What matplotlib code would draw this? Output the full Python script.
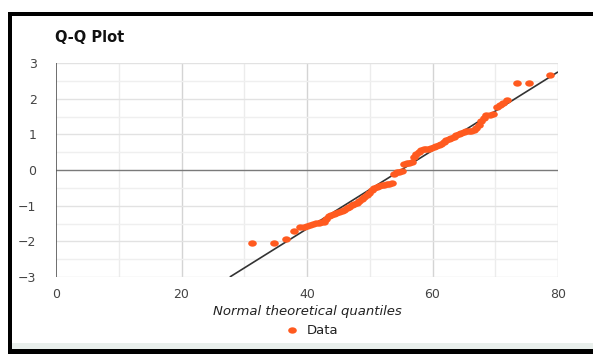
import matplotlib
matplotlib.use("Agg")
import matplotlib.pyplot as plt
from matplotlib.patches import Rectangle
from matplotlib.path import Path
from matplotlib.lines import Line2D
import numpy as np

# ---- data ----
theoretical_x = [31.2, 34.7, 36.7, 38.0, 38.9, 39.5, 40.0, 40.5, 41.0, 41.4,
                 41.9, 42.3, 42.7, 43.1, 43.5, 43.9, 44.3, 44.7, 45.1, 45.5,
                 45.9, 46.3, 46.7, 47.1, 47.5, 47.9, 48.3, 48.7, 49.1, 49.5,
                 49.9, 50.3, 50.7, 51.1, 51.5, 51.9, 52.3, 52.7, 53.1, 53.5,
                 53.9, 54.3, 54.7, 55.1, 55.5, 55.9, 56.3, 56.7, 57.1, 57.4,
                 57.8, 58.2, 58.6, 59.0, 59.4, 59.8, 60.2, 60.6, 61.0, 61.4,
                 61.8, 62.2, 62.6, 63.0, 63.4, 63.8, 64.2, 64.6, 65.0, 65.4,
                 65.8, 66.2, 66.6, 67.0, 67.4, 67.8, 68.2, 68.6, 69.1, 69.6,
                 70.2, 70.7, 71.2, 71.9, 73.5, 75.3, 78.8]
data_y = [-2.04, -2.04, -1.93, -1.70, -1.59, -1.59, -1.58, -1.55, -1.51, -1.49,
          -1.48, -1.47, -1.45, -1.36, -1.29, -1.26, -1.24, -1.21, -1.19, -1.16,
          -1.12, -1.07, -1.03, -0.99, -0.96, -0.93, -0.87, -0.80, -0.75, -0.70,
          -0.64, -0.57, -0.51, -0.48, -0.45, -0.43, -0.42, -0.40, -0.38, -0.37,
          -0.10, -0.07, -0.05, -0.03, 0.18, 0.20, 0.21, 0.23, 0.36, 0.44,
          0.50, 0.56, 0.58, 0.59, 0.60, 0.62, 0.64, 0.66, 0.69, 0.74,
          0.79, 0.84, 0.87, 0.90, 0.93, 0.97, 1.01, 1.05, 1.07, 1.08,
          1.09, 1.10, 1.11, 1.17, 1.25, 1.36, 1.45, 1.54, 1.54, 1.56,
          1.77, 1.83, 1.89, 1.97, 2.43, 2.43, 2.66]
fit_line_x = [27.7, 80.0]
fit_line_y = [-3.0, 2.75]
x_ticks = [0, 20, 40, 60, 80]
y_ticks = [-3, -2, -1, 0, 1, 2, 3]
title = "Q-Q Plot"
x_label = "Normal theoretical quantiles"
series_name = "Data"

W, H = 593, 354
DPI = 100
fig = plt.figure(figsize=(W / DPI, H / DPI), dpi=DPI)
fig.patch.set_facecolor("white")
plt.rcParams['font.family'] = ['DejaVu Sans']

def fx(px):
    return px / W

def fy(py):
    return 1 - py / H

# frame decorations
def prect(x0, y0, x1, y1, color):
    fig.add_artist(Rectangle((fx(x0), fy(y1)), fx(x1) - fx(x0), fy(y0) - fy(y1),
                             transform=fig.transFigure, facecolor=color,
                             edgecolor="none", zorder=0))

prect(8, 12, W, 16, "black")
prect(8, 12, 12, H, "black")
prect(12, 343, W, 349, "#e9efec")
prect(8, 349, W, H, "black")

# axes
left, right, top, bottom = 56, 558, 63, 277
ax = fig.add_axes([fx(left), fy(bottom), fx(right) - fx(left), fy(top) - fy(bottom)])
ax.set_xlim(0, 80)
ax.set_ylim(-3, 3)
for s in ax.spines.values():
    s.set_visible(False)

# grid
for v in [10, 30, 50, 70]:
    ax.axvline(v, color="#ececec", lw=1.0, zorder=1)
for v in [20, 40, 60, 80]:
    ax.axvline(v, color="#d4d4d4", lw=1.0, zorder=1)
for v in [-2.5, -1.5, -0.5, 0.5, 1.5, 2.5]:
    ax.axhline(v, color="#efefef", lw=1.0, zorder=1)
for v in [-3, -2, -1, 1, 2, 3]:
    ax.axhline(v, color="#e2e2e2", lw=1.0, zorder=1)
ax.axhline(0, color="#7a7a7a", lw=1.0, zorder=2)
ax.axvline(0, color="#555555", lw=1.2, zorder=2)

# ellipse marker (reference is horizontally stretched)
circ = Path.unit_circle()
ell = Path(circ.vertices * np.array([1.0, 0.74]), circ.codes)

ax.plot(fit_line_x, fit_line_y, color="#333333", lw=1.2, zorder=3, solid_capstyle="butt")
ax.plot(theoretical_x, data_y, linestyle="none", marker=ell, markersize=6.2,
        color="#ff5a1f", markeredgewidth=0, zorder=4, clip_on=False)

ax.set_xticks(x_ticks)
ax.set_yticks(y_ticks)
ax.tick_params(length=0, labelsize=9, colors="#444444")
ax.tick_params(axis="y", pad=14)
ax.tick_params(axis="x", pad=8)
for lab in ax.get_yticklabels():
    lab.set_horizontalalignment("right")

fig.text(fx(55), fy(38), title, fontsize=10.5, fontweight="bold", color="#111111",
         ha="left", va="center")
fig.text(fx(307), fy(312), x_label, fontsize=9.5, style="italic", color="#222222",
         ha="center", va="center")

handle = Line2D([], [], linestyle="none", marker=ell, markersize=6.2,
                color="#ff5a1f", markeredgewidth=0)
leg = fig.legend([handle], [series_name], loc="center",
                 bbox_to_anchor=(fx(312), fy(331)), frameon=False,
                 fontsize=9.5, handletextpad=0.6, handlelength=1.0)
for t in leg.get_texts():
    t.set_color("#222222")

fig.savefig("out.png", dpi=DPI)
